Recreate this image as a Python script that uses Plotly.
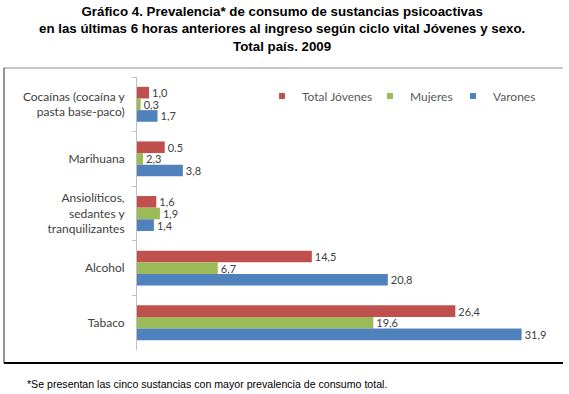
import plotly.graph_objects as go

categories = ["Cocaínas (cocaína y<br>pasta base-paco)", "Marihuana",
              "Ansiolíticos,<br>sedantes y<br>tranquilizantes", "Alcohol", "Tabaco"]
series_names = ["Total Jóvenes", "Mujeres", "Varones"]
total_values = [1.0, 2.3, 1.6, 14.5, 26.4]
mujeres_values = [0.3, 0.5, 1.9, 6.7, 19.6]
varones_values = [1.7, 3.8, 1.4, 20.8, 31.9]
total_labels = ["1,0", "0.5", "1,6", "14,5", "26,4"]
mujeres_labels = ["0,3", "2,3", "1,9", "6,7", "19,6"]
varones_labels = ["1,7", "3,8", "1,4", "20,8", "31,9"]

W, H = 569, 394
L, R, T, B = 137, 559, 77, 350


def xp(px):
    return (px - L) / (R - L)


def yp(py):
    return (B - py) / (B - T)


colors = ["#C0504D", "#9BBB59", "#4F81BD"]
values = [total_values, mujeres_values, varones_values]
labels = [total_labels, mujeres_labels, varones_labels]
legend_ids = ["legend", "legend2", "legend3"]

fig = go.Figure()
for name, vals, labs, col in zip(series_names, values, labels, colors):
    fig.add_trace(go.Bar(
        y=categories, x=vals, orientation="h", name=name,
        marker=dict(color=col, line=dict(width=0)),
        text=labs, textposition="outside", constraintext="none",
        textfont=dict(family="Lato", size=11, color="#404040"),
        cliponaxis=False, showlegend=False, hoverinfo="skip",
    ))

for name, col, lid in zip(series_names, colors, legend_ids):
    fig.add_trace(go.Scatter(
        x=[None], y=[None], mode="markers", name=name,
        marker=dict(symbol="square", size=6, color=col),
        legend=lid, showlegend=True,
    ))

leg_common = dict(orientation="h", bgcolor="rgba(0,0,0,0)", borderwidth=0,
                  font=dict(family="Lato", size=12, color="#595959"),
                  yanchor="middle", xanchor="left", itemwidth=30,
                  tracegroupgap=0)
text_starts = [302, 410, 493]
fig.update_layout(
    legend=dict(x=xp(text_starts[0] - 40), y=yp(96), **leg_common),
    legend2=dict(x=xp(text_starts[1] - 40), y=yp(96), **leg_common),
    legend3=dict(x=xp(text_starts[2] - 40), y=yp(96), **leg_common),
)

fig.update_layout(
    width=W, height=H,
    margin=dict(l=L, r=W - R, t=T, b=H - B, pad=0),
    paper_bgcolor="white", plot_bgcolor="white",
    barmode="group", bargap=0.36, bargroupgap=0,
    xaxis=dict(range=[0, 35], visible=False, fixedrange=True),
    yaxis=dict(
        categoryorder="array", categoryarray=categories, autorange="reversed",
        showline=True, linecolor="#BFBFBF", linewidth=1,
        ticks="outside", tickson="boundaries", ticklen=4, tickcolor="#BFBFBF",
        ticklabelstandoff=9, showgrid=False, zeroline=False,
        tickfont=dict(family="Lato", size=12, color="#404040"),
    ),
    font=dict(family="Lato"),
    showlegend=True,
)

fig.add_annotation(
    xref="paper", yref="paper", x=xp(282), y=yp(2), xanchor="center", yanchor="top",
    text="Gráfico 4. Prevalencia* de consumo de sustancias psicoactivas<br>"
         "en las últimas 6 horas anteriores al ingreso según ciclo vital Jóvenes y sexo.<br>"
         "Total país. 2009",
    showarrow=False, align="center",
    font=dict(family="Liberation Sans", size=13.3, color="black", weight="bold"),
)
fig.add_annotation(
    xref="paper", yref="paper", x=xp(25), y=yp(384), xanchor="left", yanchor="middle",
    text="*Se presentan las cinco sustancias con mayor prevalencia de consumo total.",
    showarrow=False, font=dict(family="Liberation Sans", size=10.6, color="black"),
)

# chart frame
fig.add_shape(type="line", xref="paper", yref="paper", x0=xp(4), x1=xp(563), y0=yp(68), y1=yp(68),
              line=dict(color="#8C8C8C", width=1))
fig.add_shape(type="line", xref="paper", yref="paper", x0=xp(4), x1=xp(4), y0=yp(68), y1=yp(363),
              line=dict(color="#6E6E6E", width=1.5))
fig.add_shape(type="line", xref="paper", yref="paper", x0=xp(4), x1=xp(563), y0=yp(363), y1=yp(363),
              line=dict(color="black", width=2))

fig.write_html("out.html", config={"displayModeBar": False},
               post_script="document.body.style.margin='0';document.body.style.overflow='hidden';")
